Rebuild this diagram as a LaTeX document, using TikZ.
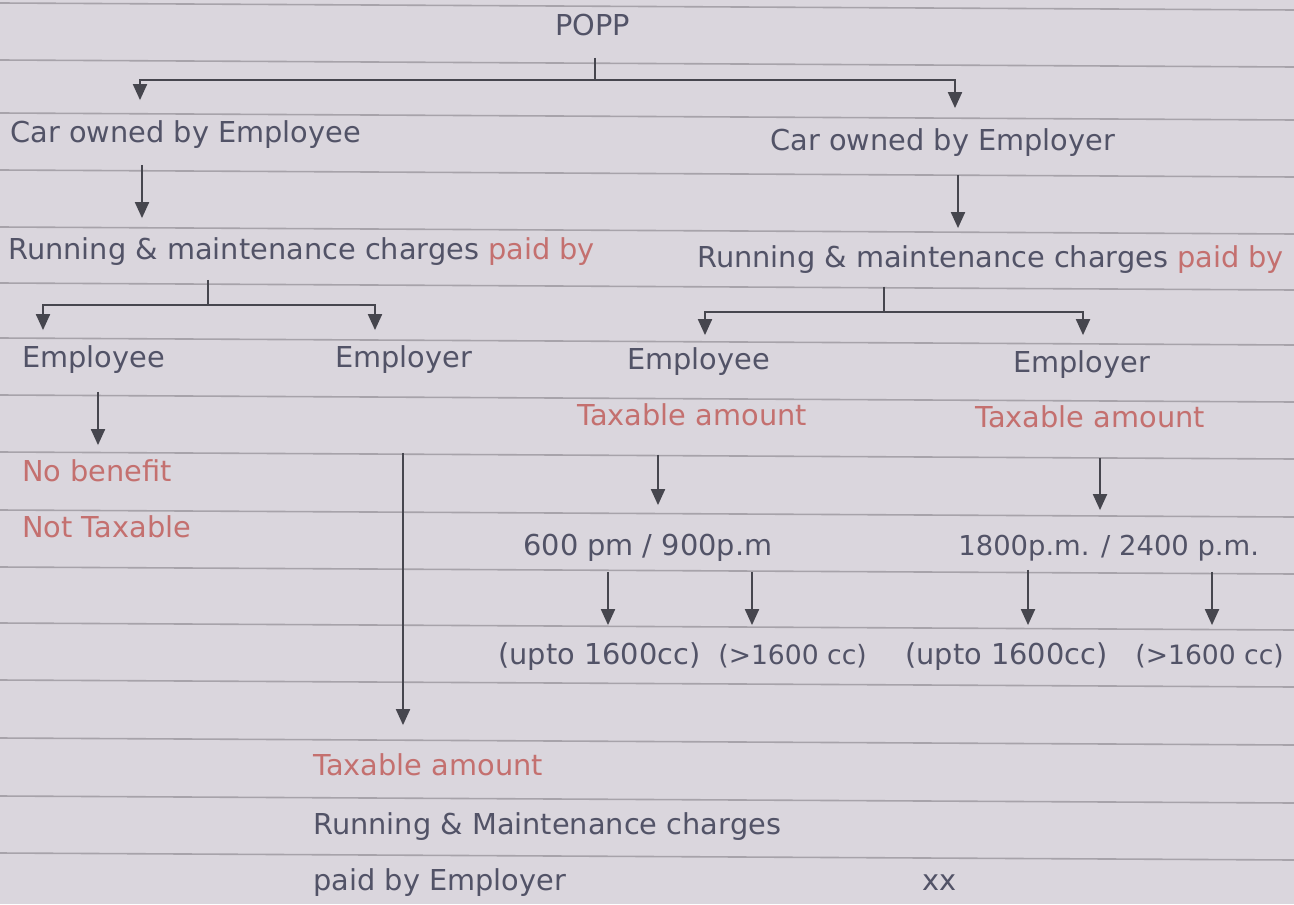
\documentclass[tikz,border=0pt]{standalone}
\usepackage{fontspec}
\setmainfont{DejaVu Sans}
\usetikzlibrary{arrows.meta}
\definecolor{paper}{HTML}{DAD6DD}
\definecolor{rule}{HTML}{A7A3AA}
\definecolor{ink}{HTML}{525367}
\definecolor{redink}{HTML}{C4706F}
\definecolor{lineink}{HTML}{46464E}
\tikzset{
  txt/.style={font=\fontsize{14.4}{17}\selectfont, text=ink, inner sep=0pt, anchor=west, text height=10.5pt, text depth=3pt},
  ntxt/.style={txt, font=\fontsize{13.7}{17}\selectfont},
  stxt/.style={txt, font=\fontsize{13.3}{17}\selectfont},
  rtxt/.style={txt, text=redink},
  ln/.style={draw=lineink, line width=1pt},
  arr/.style={ln, -{Triangle[length=8pt,width=7pt]}},
  ruled/.style={draw=rule, line width=0.8pt}
}
\begin{document}
\begin{tikzpicture}[x=0.5pt,y=-0.5pt]
\fill[paper] (0,0) rectangle (1294,904);
\useasboundingbox (0,0) rectangle (1294,904);
\foreach \yy in {3,60,113,170,227,283,338,395,452,510,567,623,680,738,796,853}
  \draw[ruled] (0,\yy) -- (1294,\yy+7);

% nodes
\node[txt] (popp) at (555,28) {POPP};
\node[txt] (coe) at (10,135) {Car owned by Employee};
\node[txt] (cor) at (770,143) {Car owned by Employer};
\node[txt] (rml) at (8,252) {Running \& maintenance charges \textcolor{redink}{paid by}};
\node[txt] (rmr) at (697,260) {Running \& maintenance charges \textcolor{redink}{paid by}};
\node[txt] (eeL) at (22,360) {Employee};
\node[txt] (erL) at (335,360) {Employer};
\node[txt] (eeR) at (627,362) {Employee};
\node[txt] (erR) at (1013,365) {Employer};
\node[rtxt] (nb) at (22,474) {No benefit};
\node[rtxt] (nt) at (22,530) {Not Taxable};
\node[rtxt] (taR1) at (577,418) {Taxable amount};
\node[rtxt] (taR2) at (975,420) {Taxable amount};
\node[txt] (r1) at (523,548) {600 pm / 900p.m};
\node[ntxt] (r2) at (958,548) {1800p.m. / 2400 p.m.};
\node[txt] (c1) at (498,657) {(upto 1600cc)};
\node[stxt] (c2) at (718,657) {(>1600 cc)};
\node[txt] (c3) at (905,657) {(upto 1600cc)};
\node[stxt] (c4) at (1135,657) {(>1600 cc)};
\node[rtxt] (ta) at (313,768) {Taxable amount};
\node[txt] (rm) at (313,827) {Running \& Maintenance charges};
\node[txt] (pe) at (313,883) {paid by Employer};
\node[txt] (xx) at (922,883) {xx};

% junctions
\coordinate (jP) at (595,80);
\coordinate (jL) at (208,305);
\coordinate (jR) at (884,312);

% top fork
\draw[ln, shorten <=8pt] (popp.south -| jP) -- (jP);
\draw[arr, shorten >=10.5pt] (jP) -| (coe.north -| 140,0);
\draw[arr, shorten >=10.5pt] (jP) -| (cor.north -| 955,0);

\draw[arr, shorten <=8pt, shorten >=10pt] (coe.south -| 142,0) -- (rml.north -| 142,0);
\draw[arr, shorten <=9pt, shorten >=9pt] (cor.south -| 958,0) -- (rmr.north -| 958,0);

% left fork
\draw[ln, shorten <=7pt] (rml.south -| jL) -- (jL);
\draw[arr, shorten >=8pt] (jL) -| (eeL.north -| 43,0);
\draw[arr, shorten >=8pt] (jL) -| (erL.north -| 375,0);

% right fork
\draw[ln, shorten <=6.5pt] (rmr.south -| jR) -- (jR);
\draw[arr, shorten >=6.5pt] (jR) -| (eeR.north -| 705,0);
\draw[arr, shorten >=8pt] (jR) -| (erR.north -| 1083,0);

\draw[arr, shorten <=9pt, shorten >=7.5pt] (eeL.south -| 98,0) -- (nb.north -| 98,0);
\draw[arr, shorten <=39.5pt, shorten >=14.5pt] (erL.south -| 403,0) -- (ta.north -| 403,0);

\draw[arr, shorten <=11.5pt, shorten >=14.5pt] (taR1.south -| 658,0) -- (r1.north -| 658,0);
\draw[arr, shorten <=12pt, shorten >=12pt] (taR2.south -| 1100,0) -- (r2.north -| 1100,0);

\draw[arr, shorten <=5pt, shorten >=9pt] (r1.south -| 608,0) -- (c1.north -| 608,0);
\draw[arr, shorten <=5pt, shorten >=9pt] (r1.south -| 752,0) -- (c2.north -| 752,0);
\draw[arr, shorten <=4pt, shorten >=9pt] (r2.south -| 1028,0) -- (c3.north -| 1028,0);
\draw[arr, shorten <=5pt, shorten >=9pt] (r2.south -| 1212,0) -- (c4.north -| 1212,0);
\end{tikzpicture}
\end{document}
